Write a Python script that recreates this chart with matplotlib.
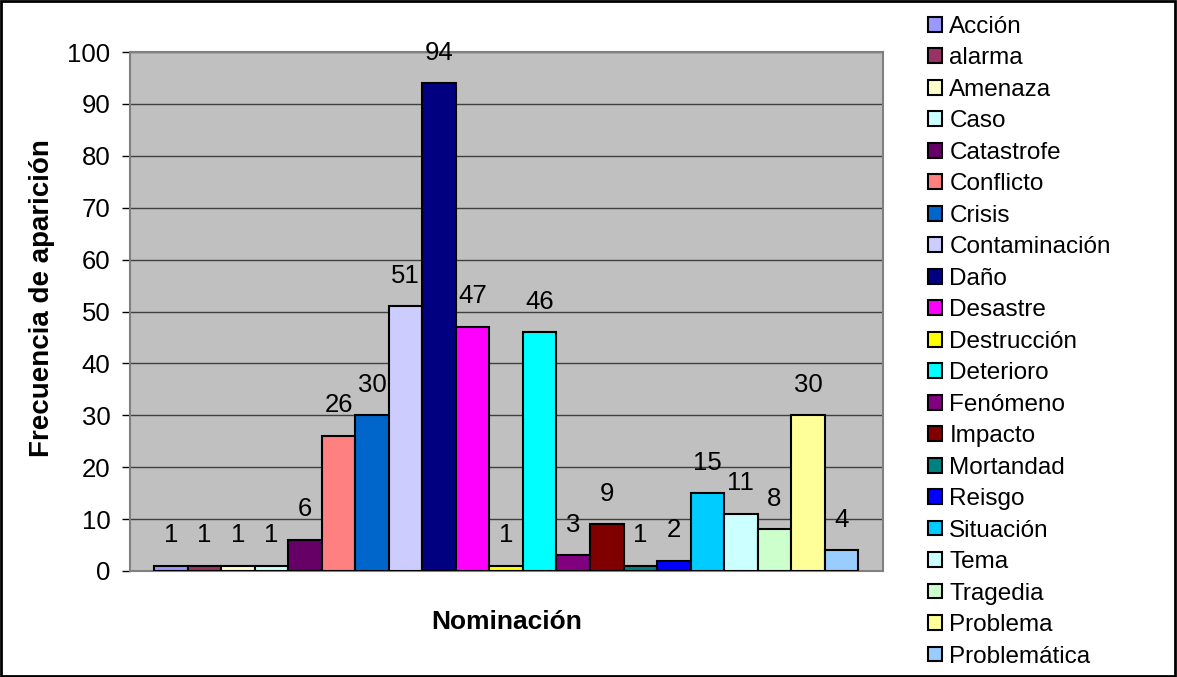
import matplotlib
matplotlib.use("Agg")
import matplotlib.pyplot as plt
from matplotlib.patches import Patch, Rectangle

plt.rcParams['font.family'] = ['Liberation Sans', 'DejaVu Sans']

# data
categorias = ["Acción", "alarma", "Amenaza", "Caso", "Catastrofe", "Conflicto",
              "Crisis", "Contaminación", "Daño", "Desastre", "Destrucción",
              "Deterioro", "Fenómeno", "Impacto", "Mortandad", "Reisgo",
              "Situación", "Tema", "Tragedia", "Problema", "Problemática"]
valores = [1, 1, 1, 1, 6, 26, 30, 51, 94, 47, 1, 46, 3, 9, 1, 2, 15, 11, 8, 30, 4]
colores = ["#9999FF", "#993366", "#FFFFCC", "#CCFFFF", "#660066", "#FF8080",
           "#0066CC", "#CCCCFF", "#000080", "#FF00FF", "#FFFF00", "#00FFFF",
           "#800080", "#800000", "#008080", "#0000FF", "#00CCFF", "#CCFFFF",
           "#CCFFCC", "#FFFF99", "#99CCFF"]
yticks = [0, 10, 20, 30, 40, 50, 60, 70, 80, 90, 100]

fig = plt.figure(figsize=(11.77, 6.77), dpi=100)
ax = fig.add_axes([130/1177, 106/677, 753/1177, 519/677])
ax.set_facecolor("#C0C0C0")

x = list(range(len(valores)))
ax.bar(x, valores, width=1.0, color=colores, edgecolor="black", linewidth=1.5, zorder=3)

# data labels above each bar
for xi, v in zip(x, valores):
    ax.annotate(str(v), (xi, v), xytext=(0, 17), textcoords="offset points",
                ha="center", va="baseline", fontsize=18.5, zorder=4)

ax.set_xlim(-1.22, 21.24)
ax.set_ylim(0, 100)
ax.set_yticks(yticks)
ax.set_xticks([])
ax.tick_params(axis="y", labelsize=18.5, length=6, width=1, pad=8, color="black")
ax.yaxis.grid(True, color="#404040", linewidth=1, zorder=0)
ax.set_axisbelow(True)
for s in ax.spines.values():
    s.set_color("#808080")
    s.set_linewidth(1.5)

ax.set_xlabel("Nominación", fontsize=19, fontweight="bold", va="center")
ax.xaxis.set_label_coords(0.5, -0.098)
ax.set_ylabel("Frecuencia de aparición", fontsize=20, fontweight="bold", va="center")
ax.yaxis.set_label_coords(-0.117, 0.525)

handles = [Patch(facecolor=c, edgecolor="black", linewidth=1.5) for c in colores]
fig.legend(handles, categorias, loc="upper left", bbox_to_anchor=(928/1177, 1 - 16/677),
           frameon=False, fontsize=17.5, handlelength=0.56, handleheight=0.56,
           handletextpad=0.32, labelspacing=0.39, borderpad=0, borderaxespad=0)

# outer frame of the chart
fig.patches.append(Rectangle((0.001, 0.002), 0.997, 0.996, transform=fig.transFigure,
                             fill=False, edgecolor="black", linewidth=2))

fig.savefig("out.png", dpi=100)
